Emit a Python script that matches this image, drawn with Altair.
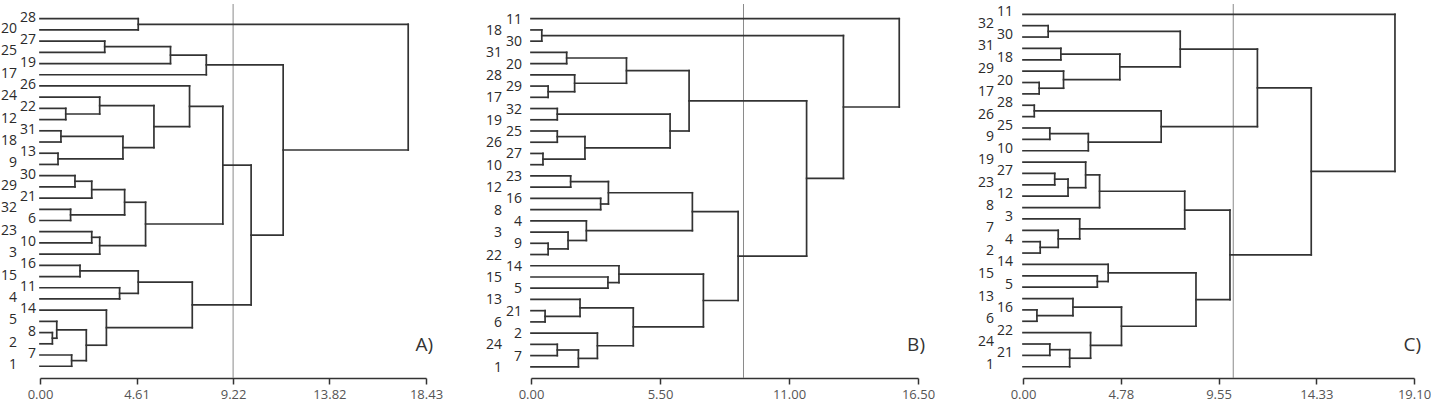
import altair as alt
import pandas as pd

# ---------------- Panel A ----------------
A_leaves = ["28", "20", "27", "25", "19", "17", "26", "24", "22", "12", "31", "18", "13", "9", "30", "29",
            "21", "32", "6", "23", "10", "3", "16", "15", "11", "4", "14", "5", "8", "2", "7", "1"]
A_merges = [
    ("28", "20", 4.69), ("27", "25", 3.09), ("m1", "19", 6.23), ("m2", "17", 7.94),
    ("22", "12", 1.23), ("24", "m4", 2.85), ("31", "18", 1.00), ("13", "9", 0.86),
    ("m6", "m7", 3.96), ("m5", "m8", 5.44), ("26", "m9", 7.14), ("30", "29", 1.67),
    ("m11", "21", 2.47), ("32", "6", 1.46), ("m12", "m13", 4.04), ("23", "10", 2.47),
    ("m15", "3", 2.85), ("m14", "m16", 5.04), ("m10", "m17", 8.73), ("16", "15", 1.91),
    ("11", "4", 3.80), ("m19", "m20", 4.69), ("8", "2", 0.59), ("5", "m22", 0.80),
    ("7", "1", 1.51), ("m23", "m24", 2.21), ("14", "m25", 3.17), ("m21", "m26", 7.27),
    ("m18", "m27", 10.08), ("m3", "m28", 11.61), ("m0", "m29", 17.58),
]
A_ticks = [0.00, 4.61, 9.22, 13.82, 18.43]
A_threshold = 9.22

# ---------------- Panel B ----------------
B_leaves = ["11", "18", "30", "31", "20", "28", "29", "17", "32", "19", "25", "26", "27", "10", "23", "12",
            "16", "8", "4", "3", "9", "22", "14", "15", "5", "13", "21", "6", "2", "24", "7", "1"]
B_merges = [
    ("18", "30", 0.46), ("31", "20", 1.52), ("29", "17", 0.73), ("28", "m2", 1.86),
    ("m1", "m3", 4.07), ("32", "19", 1.12), ("25", "26", 1.12), ("27", "10", 0.51),
    ("m6", "m7", 2.30), ("m5", "m8", 5.93), ("m4", "m9", 6.74), ("23", "12", 1.69),
    ("16", "8", 2.97), ("m11", "m12", 3.30), ("9", "22", 0.73), ("3", "m14", 1.58),
    ("4", "m15", 2.36), ("m13", "m16", 6.88), ("15", "5", 3.28), ("14", "m18", 3.75),
    ("21", "6", 0.60), ("13", "m20", 2.09), ("24", "7", 1.12), ("m22", "1", 2.02),
    ("2", "m23", 2.83), ("m21", "m24", 4.36), ("m19", "m25", 7.35), ("m17", "m26", 8.83),
    ("m10", "m27", 11.75), ("m0", "m28", 13.32), ("11", "m29", 15.70),
]
B_ticks = [0.00, 5.50, 11.00, 16.50]
B_threshold = 9.06

# ---------------- Panel C ----------------
C_leaves = ["11", "32", "30", "31", "18", "29", "20", "17", "28", "26", "25", "9", "10", "19", "27", "23",
            "12", "8", "3", "7", "4", "2", "14", "15", "5", "13", "16", "6", "22", "24", "21", "1"]
C_merges = [
    ("32", "30", 1.23), ("31", "18", 1.85), ("20", "17", 0.79), ("29", "m2", 1.98),
    ("m1", "m3", 4.73), ("m0", "m4", 7.68), ("28", "26", 0.55), ("25", "9", 1.31),
    ("m7", "10", 3.19), ("m6", "m8", 6.75), ("m5", "m9", 11.45), ("27", "23", 1.55),
    ("m11", "12", 2.20), ("19", "m12", 3.06), ("m13", "8", 3.74), ("4", "2", 0.84),
    ("7", "m15", 1.72), ("3", "m16", 2.77), ("m14", "m17", 7.90), ("15", "5", 3.63),
    ("14", "m19", 4.16), ("16", "6", 0.68), ("13", "m21", 2.44), ("24", "21", 1.31),
    ("m23", "1", 2.28), ("22", "m24", 3.30), ("m22", "m25", 4.81), ("m20", "m26", 8.45),
    ("m18", "m27", 10.11), ("m10", "m28", 14.08), ("11", "m29", 18.17),
]
C_ticks = [0.00, 4.78, 9.55, 14.33, 19.10]
C_threshold = 10.27

FONT = "Open Sans"
LINE = "#333333"


def tree_segments(leaves, merges):
    pos = {lab: (float(i), 0.0) for i, lab in enumerate(leaves)}
    rows = []
    for k, (a, b, h) in enumerate(merges):
        ya, xa = pos[a]
        yb, xb = pos[b]
        rows.append({"x": xa, "x2": h, "y": ya, "y2": ya})
        rows.append({"x": xb, "x2": h, "y": yb, "y2": yb})
        rows.append({"x": h, "x2": h, "y": ya, "y2": yb})
        pos[f"m{k}"] = ((ya + yb) / 2.0, h)
    return pd.DataFrame(rows)


def panel(leaves, merges, ticks, thr, ydom, width, letter, dx_near, dx_far, dy):
    xs = alt.Scale(domain=[ticks[0], ticks[-1]], nice=False, zero=False)
    ys = alt.Scale(domain=ydom, reverse=True, nice=False, zero=False)
    xaxis = alt.Axis(values=ticks, format=".2f", title=None, grid=False,
                     domainColor=LINE, domainWidth=1.5, tickColor=LINE, tickWidth=1.5,
                     tickSize=6, labelFontSize=13, labelFont=FONT, labelColor="#555555",
                     labelPadding=4, labelFlush=False)
    X = alt.X("x:Q", scale=xs, axis=xaxis)
    Y = alt.Y("y:Q", scale=ys, axis=None)

    segs = tree_segments(leaves, merges)
    tree = alt.Chart(segs).mark_rule(color=LINE, strokeWidth=1.7, strokeCap="square").encode(
        x=X, x2="x2:Q", y=Y, y2="y2:Q")

    thr_rule = alt.Chart(pd.DataFrame({"x": [thr]})).mark_rule(
        color="#8a8a8a", strokeWidth=1).encode(x=X)

    lab = pd.DataFrame({"lab": leaves, "y": list(range(len(leaves))), "x": [0.0] * len(leaves)})
    lab["col"] = lab["y"] % 2
    near = alt.Chart(lab).transform_filter("datum.col == 0").mark_text(
        align="right", baseline="middle", dx=dx_near, dy=dy, fontSize=14, font=FONT, color="#2a2a2a"
    ).encode(x=X, y=Y, text="lab:N")
    far = alt.Chart(lab).transform_filter("datum.col == 1").mark_text(
        align="right", baseline="middle", dx=dx_far, dy=dy, fontSize=14, font=FONT, color="#2a2a2a"
    ).encode(x=X, y=Y, text="lab:N")

    tag = alt.Chart(pd.DataFrame({"t": [letter]})).mark_text(
        align="right", baseline="middle", fontSize=19, font=FONT, color="#333333"
    ).encode(x=alt.value(width + 7), y=alt.value(341), text="t:N")

    return alt.layer(thr_rule, tree, near, far, tag).properties(width=width, height=374)


pA = panel(A_leaves, A_merges, A_ticks, A_threshold, [-1.311, 32.05], 386, "A)", -4, -23, -1)
pB = panel(B_leaves, B_merges, B_ticks, B_threshold, [-1.309, 31.995], 387, "B)", -9, -29, 1)
pC = panel(C_leaves, C_merges, C_ticks, C_threshold, [-0.906, 31.99], 391, "C)", -10, -29, -2)

chart = alt.hconcat(pA, pB, pC, spacing=105, bounds="flush").properties(
    padding={"left": 0, "top": 3, "right": 0, "bottom": 5}
).configure_view(strokeWidth=0)

chart.save("out.html", embed_options={"renderer": "svg", "actions": False})
